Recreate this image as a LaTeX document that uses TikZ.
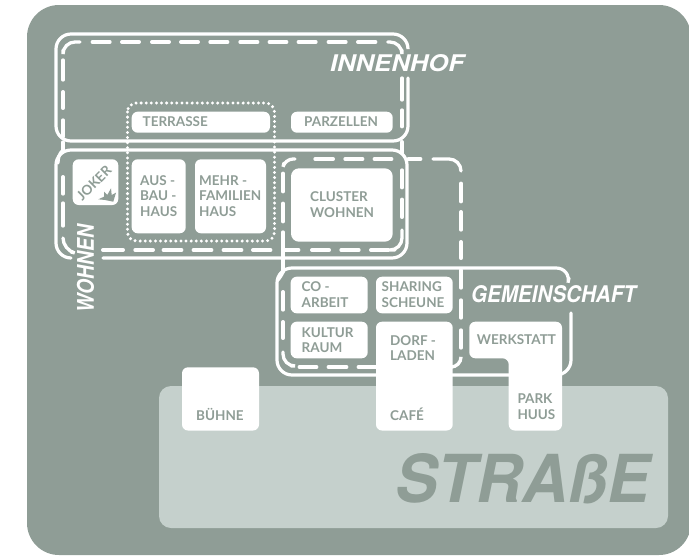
\documentclass[tikz,border=0pt]{standalone}
\usepackage{fontspec}
\setmainfont{Lato}
\newfontfamily\lblfont{Lato}[UprightFont=* Bold,BoldFont=* Bold]
\newfontfamily\headfont{TeX Gyre Heros}
\definecolor{bgc}{HTML}{8F9D96}
\definecolor{strc}{HTML}{C5D0CC}
\definecolor{txtc}{HTML}{8F9D96}
\newcommand{\fithead}[3]{\resizebox{#1pt}{#2pt}{\headfont\bfseries\itshape #3}}
\tikzset{
 block/.style={fill=white,draw=none,rounded corners=6pt},
 solidline/.style={draw=white,line width=3.2pt,line cap=round},
 dashseg/.style={draw=white,line width=3.3pt,line cap=round},
 dotline/.style={draw=white,line width=3.3pt,dash pattern=on 0pt off 5.1pt,line cap=round},
 lbl/.style={text=txtc,font=\lblfont\fontsize{13.5pt}{15.5pt}\selectfont,align=left,anchor=west,inner sep=0pt},
 head/.style={text=white,inner sep=0pt},
}
\begin{document}
\begin{tikzpicture}[x=1pt,y=-1pt]
\useasboundingbox (0,0) rectangle (689,555);
\begin{scope}
\clip (0,0) rectangle (689,555);
\fill[bgc,rounded corners=32pt] (27,5) rectangle (691,555);
\end{scope}
\fill[strc,rounded corners=12pt] (159,386) rectangle (668,528);
% solid frames
\draw[solidline,rounded corners=15pt] (408,48) -- (408,34) -- (56,34) -- (56,141) -- (408,141) -- (408,78);
\draw[solidline,rounded corners=15pt] (71,258) -- (56,258) -- (56,150) -- (407,150) -- (407,258) -- (103,258);
\draw[solidline,rounded corners=15pt] (569,278) -- (571,268) -- (277,268) -- (277,375) -- (571,375) -- (571,313);
% dashes, horizontal
\foreach \a/\b/\y in {92.3/110/42,121.7/139.3/42,151.7/169.3/42,180.7/198.3/42,210/227.7/42,240/257.7/42,269.3/286.7/42,298.3/316/42,328.3/346/42,357.7/375.7/42,
 102.7/123.3/250,135/153.3/250,163.3/181.7/250,193.3/211.7/250,223.3/241.7/250,252.7/270.7/250,311.7/329.3/250,341/359/250,370.7/388.7/250,
 315/333.3/159,345/362.7/159,374.3/391.7/159,408.3/420.7/159,
 299.3/316.7/367,328.3/346.7/367,358.3/376/367}
  \draw[dashseg] (\a,\y) -- (\b,\y);
% dashes, vertical
\foreach \a/\b/\x in {60/80/63,91.7/108.3/63,120/136.7/63,142/150/63,176.7/194/63,203/226/63,
 78/100/402,110/126.7/402,141.7/153/402,170/187.7/402,199.3/217.3/402,
 173.3/191.7/283,203.3/221.7/283,250/272/283,291.7/310/283,321.7/338.3/283,
 183.3/201.7/461,211.7/230/461,241.7/258.3/461,270/288/461,300/318/461,330/348/461}
  \draw[dashseg] (\x,\a) -- (\x,\b);
% dashed corners
\draw[dashseg,rounded corners=12pt] (63,50) -- (63,42) -- (80,42);
\draw[dashseg,rounded corners=12pt] (387.7,42) -- (402,42) -- (402,50);
\draw[dashseg] (63,150) .. controls (59,154) and (58,158) .. (58,163);
\draw[dashseg,rounded corners=12pt] (63,238) -- (63,250) -- (71,252);
\draw[dashseg] (283,232) -- (283,250) -- (298.7,250);
\draw[dashseg,rounded corners=8pt] (284,163) -- (285,159) -- (295,159);
\draw[dashseg,rounded corners=12pt] (395,250) -- (402,250) -- (402,230);
\draw[dashseg,rounded corners=12pt] (433,159) -- (461,159) -- (461,171);
\draw[dashseg,rounded corners=10pt] (461,358) -- (461,367) -- (453,367);
\draw[dashseg,rounded corners=12pt] (283,352) -- (283,366) -- (291,366);
\draw[dashseg] (283,272) .. controls (282,275) and (280,277) .. (278,280);
% dotted
\draw[dotline,rounded corners=9pt] (127.5,103) rectangle (274.5,241);
% blocks
\fill[block] (131.7,111.7) rectangle (270,132.7);
\fill[block] (291,111.7) rectangle (392.7,132.7);
\fill[block] (72.7,159.3) rectangle (118.3,205);
\fill[block] (131.7,159.3) rectangle (185.7,233.3);
\fill[block] (195,159.3) rectangle (266,233.3);
\fill[block,rounded corners=8pt] (291,168.3) rectangle (392.7,241.7);
\fill[block] (290.7,276.7) rectangle (367.7,313.3);
\fill[block] (376,276.7) rectangle (452.7,313.3);
\fill[block] (290.7,321.7) rectangle (367.7,358.3);
\fill[block] (376,321.7) rectangle (452.7,430.5);
\fill[block] (469.3,321.7) -- (562,321.7) -- (562,430.5) -- (508.7,430.5) -- (508.7,358.3) -- (469.3,358.3) -- cycle;
\fill[block] (182,367.3) rectangle (259,430.5);
% labels
\node[lbl] (t1) at (142.5,121.7) {TERRASSE};
\node[lbl] (t2) at (304,121.7) {PARZELLEN};
\node[lbl] (t3) at (140,196) {AUS -\\BAU -\\HAUS};
\node[lbl] (t4) at (199,196) {MEHR -\\FAMILIEN\\HAUS};
\node[lbl] (t5) at (310,204.5) {CLUSTER\\WOHNEN};
\node[lbl] (t6) at (301.5,294.7) {CO -\\ARBEIT};
\node[lbl] (t7) at (381.5,294.7) {SHARING\\SCHEUNE};
\node[lbl] (t8) at (301.5,340) {KULTUR\\RAUM};
\node[lbl] (t9) at (390,348) {DORF -\\LADEN};
\node[lbl] (t10) at (390,414.3) {CAFÉ};
\node[lbl] (t11) at (476.7,340) {WERKSTATT};
\node[lbl] (t12) at (517.3,406.7) {PARK\\HUUS};
\node[lbl] (t13) at (196,414.3) {BÜHNE};
\node[lbl,rotate=45,anchor=center] (t14) at (94,183) {JOKER};
\fill[txtc] (98.3,199.3) -- (104,196.7) -- (104,191.7) -- (107.3,195) -- (111,188.3) -- (111.7,195) -- (116,192.7) -- (113.3,201.7) -- (105,200) -- cycle;
\node[head] (h1) at (397,62.7) {\fithead{134}{17}{INNENHOF}};
\node[head] (h2) at (553.5,294) {\fithead{165}{17}{GEMEINSCHAFT}};
\node[head,rotate=90] (h3) at (85.5,268.5) {\fithead{87}{17}{WOHNEN}};
\node[text=bgc,inner sep=0pt] (h4) at (522.5,479) {\fithead{254}{49}{STRAßE}};
\end{tikzpicture}
\end{document}
